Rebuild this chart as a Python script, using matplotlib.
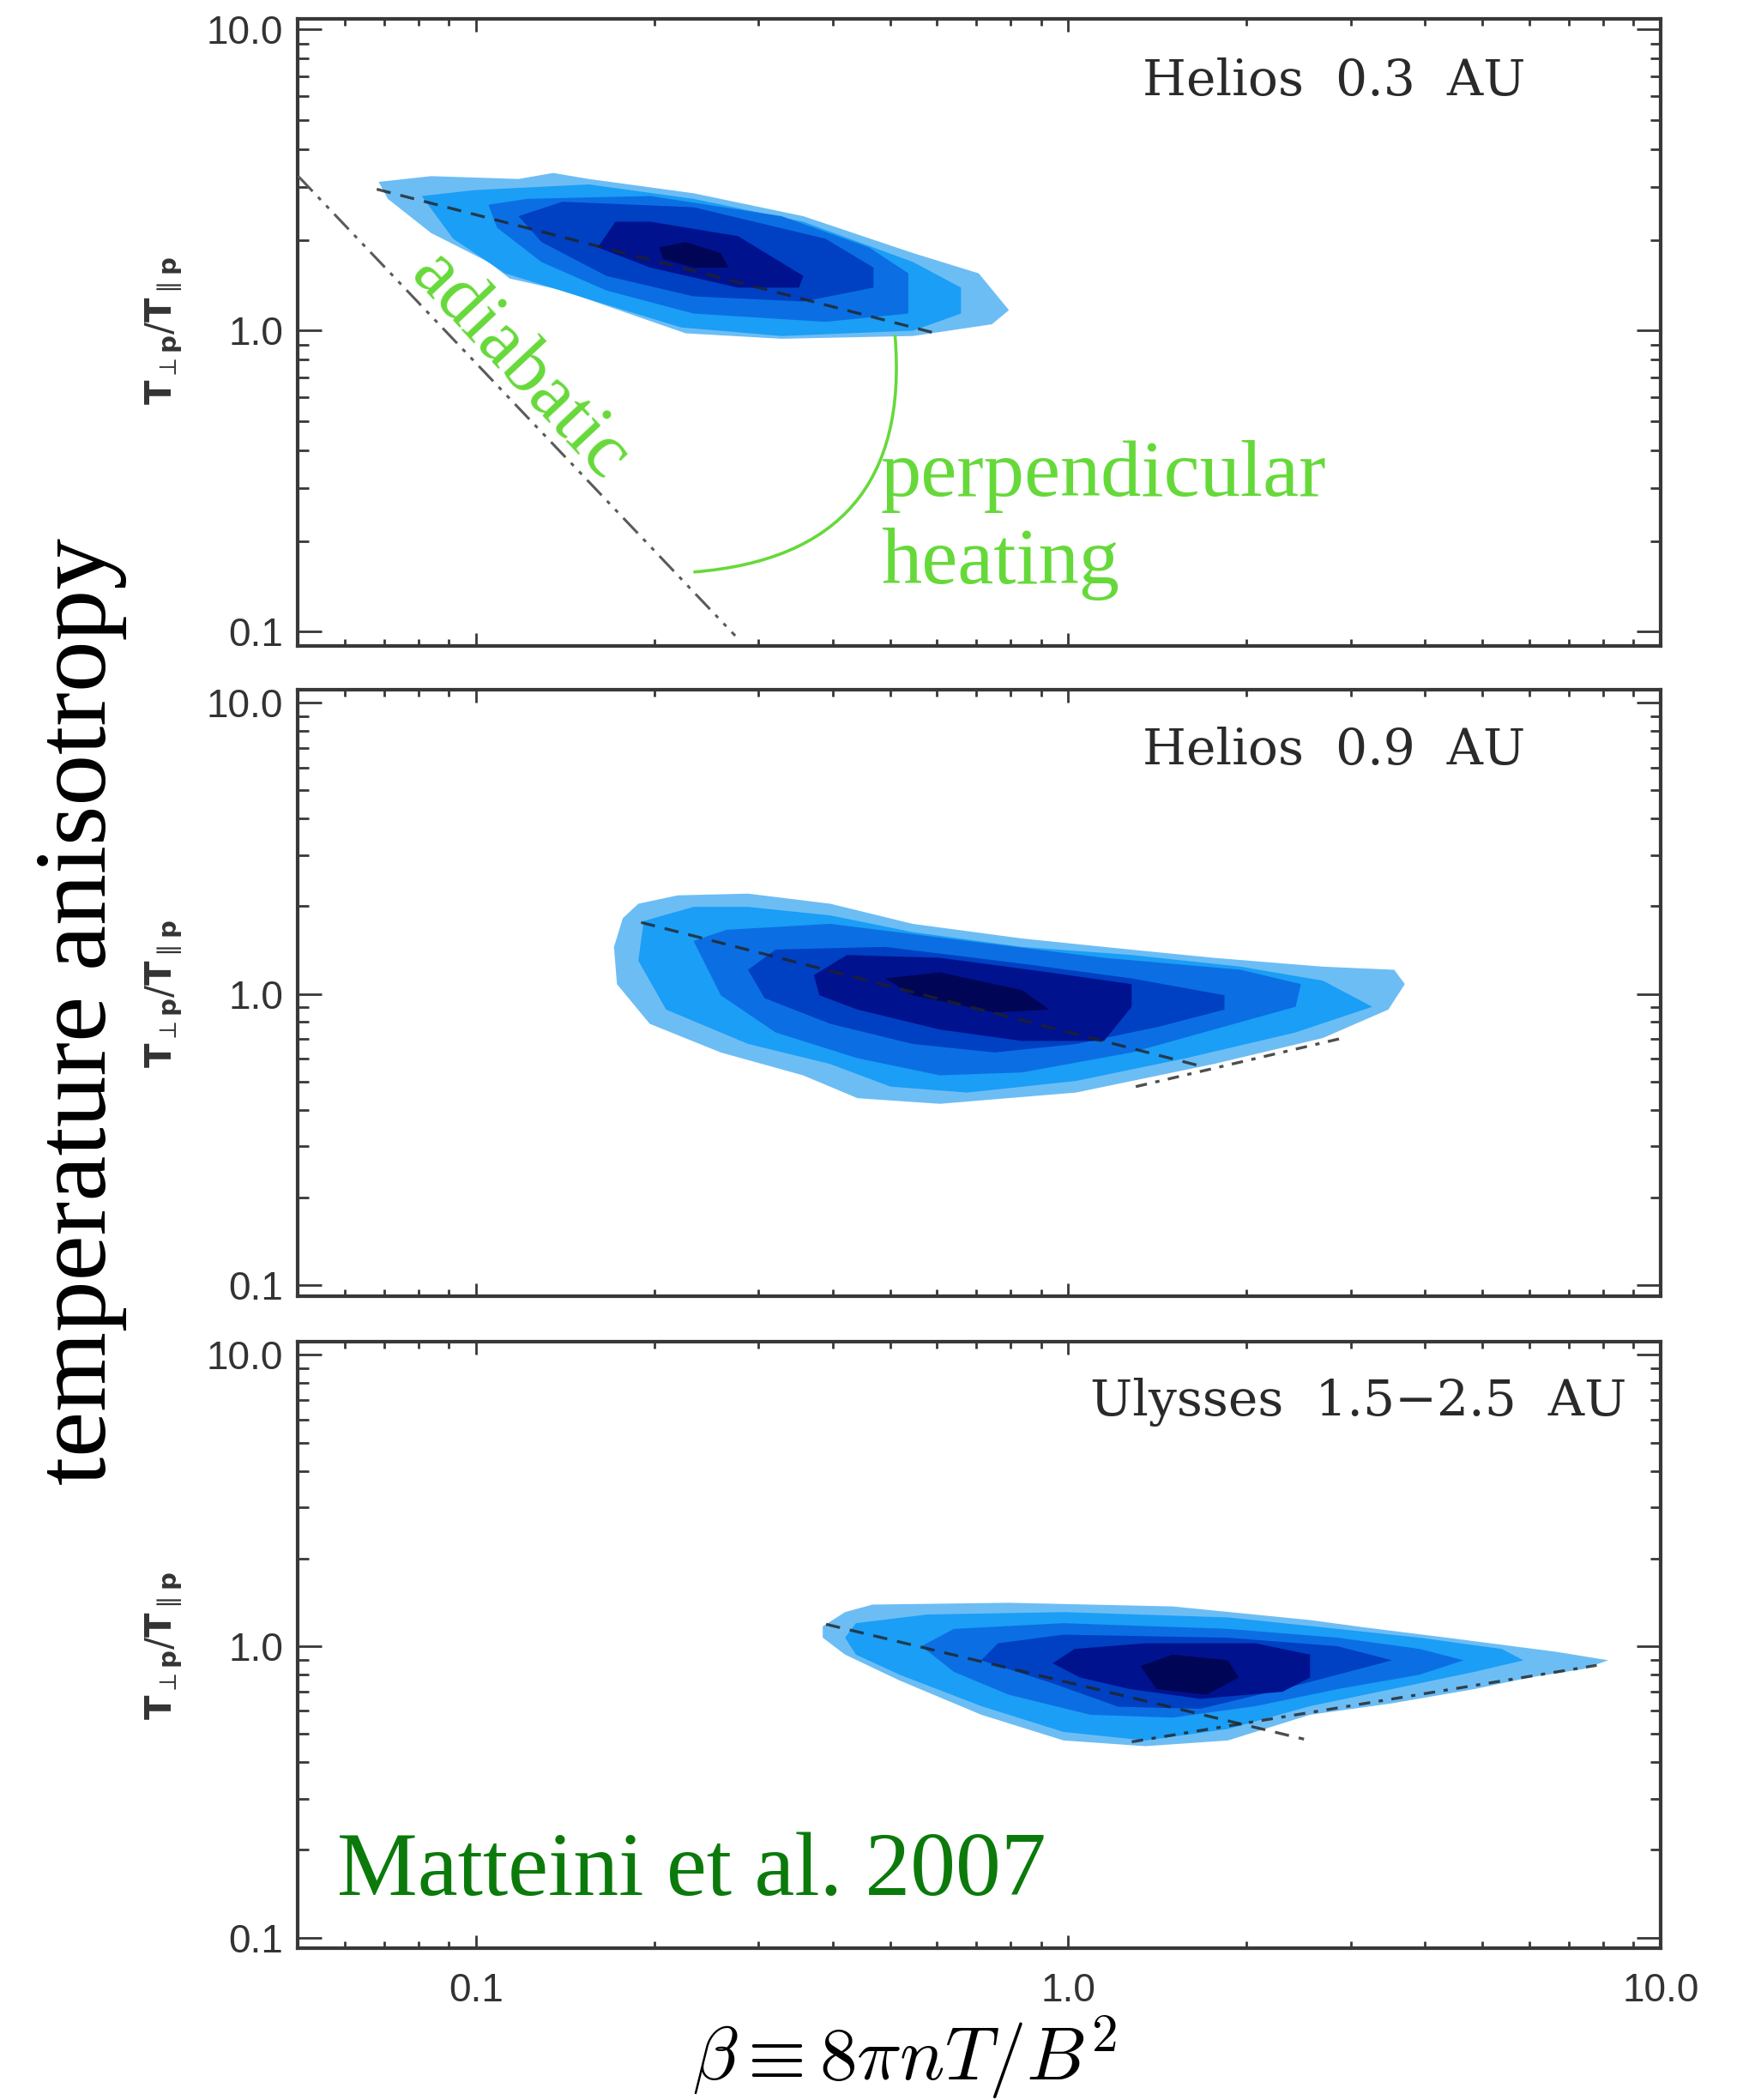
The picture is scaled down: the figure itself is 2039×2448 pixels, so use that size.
import matplotlib.pyplot as plt
from matplotlib.ticker import FixedLocator, FixedFormatter, LogLocator, NullFormatter

# contour outlines: beta (x) and T_perp/T_par (y), outer level first
h03_beta = [
    [0.0685, 0.084, 0.118, 0.135, 0.155, 0.233, 0.357, 0.547, 0.706, 0.794, 0.743, 0.547, 0.328, 0.226, 0.181, 0.140, 0.114, 0.105, 0.084, 0.071],
    [0.081, 0.0996, 0.155, 0.233, 0.357, 0.547, 0.659, 0.659, 0.547, 0.328, 0.222, 0.166, 0.112, 0.0915],
    [0.105, 0.122, 0.197, 0.328, 0.461, 0.537, 0.537, 0.389, 0.233, 0.166, 0.129, 0.1085],
    [0.118, 0.140, 0.233, 0.389, 0.469, 0.469, 0.357, 0.233, 0.166, 0.129],
    [0.1605, 0.172, 0.197, 0.277, 0.357, 0.351, 0.277, 0.197],
    [0.204, 0.226, 0.259, 0.267, 0.233, 0.207],
]
h03_ratio = [
    [3.12, 3.26, 3.19, 3.34, 3.19, 2.86, 2.40, 1.81, 1.55, 1.17, 1.05, 0.96, 0.94, 0.98, 1.14, 1.36, 1.49, 1.69, 2.11, 2.74],
    [2.80, 2.93, 3.06, 2.74, 2.30, 1.69, 1.39, 1.14, 1.00, 0.96, 1.025, 1.22, 1.55, 2.02],
    [2.62, 2.74, 2.80, 2.40, 1.89, 1.55, 1.14, 1.07, 1.14, 1.36, 1.69, 2.20],
    [2.40, 2.68, 2.57, 2.02, 1.62, 1.39, 1.25, 1.30, 1.52, 1.97],
    [1.89, 2.30, 2.30, 2.06, 1.52, 1.39, 1.39, 1.62],
    [1.89, 1.97, 1.81, 1.62, 1.62, 1.73],
]

h09_beta = [
    [0.177, 0.188, 0.219, 0.288, 0.3965, 0.546, 0.835, 1.149, 1.759, 2.69, 3.55, 3.70, 3.47, 2.69, 1.76, 1.03, 0.607, 0.441, 0.3565, 0.259, 0.1965, 0.173, 0.171],
    [0.188, 0.192, 0.233, 0.288, 0.3965, 0.546, 0.835, 1.279, 1.956, 2.69, 3.26, 2.42, 1.58, 1.03, 0.675, 0.501, 0.3965, 0.288, 0.2094],
    [0.233, 0.265, 0.3965, 0.675, 1.149, 1.956, 2.47, 2.42, 1.76, 1.279, 0.835, 0.607, 0.441, 0.3205, 0.259],
    [0.288, 0.3205, 0.4905, 0.835, 1.279, 1.835, 1.835, 1.421, 1.033, 0.751, 0.546, 0.3965, 0.307],
    [0.372, 0.423, 0.607, 0.929, 1.279, 1.279, 1.149, 0.835, 0.607, 0.441, 0.380],
    [0.4905, 0.607, 0.835, 0.929, 0.751, 0.546],
]
h09_ratio = [
    [1.82, 2.04, 2.18, 2.21, 2.04, 1.74, 1.55, 1.45, 1.33, 1.24, 1.21, 1.08, 0.883, 0.705, 0.574, 0.458, 0.419, 0.438, 0.525, 0.629, 0.789, 1.08, 1.45],
    [1.30, 1.78, 1.99, 1.99, 1.86, 1.63, 1.45, 1.36, 1.24, 1.11, 0.903, 0.737, 0.601, 0.502, 0.458, 0.480, 0.574, 0.673, 0.883],
    [1.52, 1.66, 1.74, 1.52, 1.33, 1.21, 1.08, 0.903, 0.754, 0.629, 0.537, 0.525, 0.601, 0.737, 0.989],
    [1.21, 1.42, 1.45, 1.27, 1.13, 0.989, 0.883, 0.771, 0.673, 0.629, 0.673, 0.789, 0.967],
    [1.16, 1.36, 1.33, 1.185, 1.08, 0.903, 0.689, 0.689, 0.754, 0.883, 0.989],
    [1.13, 1.185, 1.03, 0.883, 0.863, 0.989],
]

uly_beta = [
    [0.385, 0.420, 0.467, 0.793, 1.50, 2.56, 3.17, 4.36, 6.67, 8.16, 7.42, 6.0, 4.85, 3.52, 2.56, 1.86, 1.35, 0.982, 0.713, 0.519, 0.420, 0.385],
    [0.420, 0.438, 0.577, 0.982, 1.86, 2.85, 3.92, 5.39, 5.87, 4.85, 3.52, 2.56, 1.86, 1.35, 0.982, 0.713, 0.519, 0.438],
    [0.565, 0.641, 0.982, 1.86, 2.85, 3.92, 4.65, 3.92, 2.85, 2.07, 1.50, 1.09, 0.793, 0.641],
    [0.713, 0.761, 0.982, 1.86, 2.85, 3.52, 2.85, 2.30, 1.67, 1.215, 0.941],
    [0.941, 1.025, 1.35, 2.07, 2.56, 2.56, 2.30, 1.67, 1.27, 1.047],
    [1.324, 1.50, 1.86, 1.94, 1.71, 1.41],
]
uly_ratio = [
    [1.17, 1.31, 1.39, 1.41, 1.37, 1.23, 1.16, 1.07, 0.957, 0.895, 0.836, 0.781, 0.713, 0.637, 0.582, 0.475, 0.454, 0.475, 0.582, 0.763, 0.936, 1.07],
    [1.07, 1.20, 1.285, 1.31, 1.256, 1.147, 1.07, 0.979, 0.895, 0.817, 0.713, 0.623, 0.520, 0.475, 0.508, 0.623, 0.799, 0.936],
    [1.00, 1.147, 1.20, 1.147, 1.07, 0.979, 0.895, 0.799, 0.713, 0.623, 0.569, 0.582, 0.682, 0.817],
    [0.895, 1.024, 1.096, 1.07, 1.00, 0.895, 0.799, 0.713, 0.61, 0.62, 0.746],
    [0.874, 0.979, 1.024, 1.024, 0.936, 0.781, 0.698, 0.66, 0.713, 0.781],
    [0.855, 0.936, 0.895, 0.781, 0.682, 0.713],
]

# fitted anisotropy-beta trends (dashed) and second branches (dash-dot)
fit_beta = [[0.068, 0.61], [0.19, 1.7], [0.39, 2.5]]
fit_ratio = [[2.95, 0.97], [1.76, 0.56], [1.19, 0.48]]
branch_beta = [None, [1.3, 2.95], [1.28, 7.8]]
branch_ratio = [None, [0.48, 0.71], [0.47, 0.86]]

# adiabatic (CGL) path in the top panel
adiab_beta = [0.0501, 0.274]
adiab_ratio = [3.26, 0.097]

# arrow for "perpendicular heating": from adiabatic line to the distribution
heat_from = (0.234, 0.158)
heat_to = (0.51, 0.96)

titles = ['Helios  0.3  AU', 'Helios  0.9  AU', 'Ulysses  1.5\u22122.5  AU']
title_x = [0.901, 0.901, 0.975]
yticks = [0.1, 1.0, 10.0]
ytick_labels = ['0.1', '1.0', '10.0']
xticks = [0.1, 1.0, 10.0]
xtick_labels = ['0.1', '1.0', '10.0']

level_colors = ['#6dbdf5', '#1b9ef5', '#0b6fe3', '#0040c2', '#00128e', '#000655']
axcol = '#383838'

plt.rcParams['mathtext.fontset'] = 'cm'

fig = plt.figure(figsize=(20.4, 24.48), dpi=100)
boxes = [[0.1701, 0.6926, 0.7789, 0.2984],
         [0.1701, 0.3828, 0.7789, 0.2888],
         [0.1701, 0.0723, 0.7789, 0.2888]]
ylims = [(0.090, 10.85), (0.0915, 11.1), (0.092, 11.1)]
panels = [(h03_beta, h03_ratio), (h09_beta, h09_ratio), (uly_beta, uly_ratio)]

axs = []
for i, box in enumerate(boxes):
    ax = fig.add_axes(box)
    axs.append(ax)
    ax.set_xscale('log')
    ax.set_yscale('log')
    bl, rl = panels[i]
    for lev in range(len(bl)):
        ax.fill(bl[lev], rl[lev], color=level_colors[lev], lw=0, zorder=2)
    ax.plot(fit_beta[i], fit_ratio[i], color='#222222', lw=2.4, ls=(0, (5, 3.5)), alpha=0.8, zorder=3)
    if branch_beta[i] is not None:
        ax.plot(branch_beta[i], branch_ratio[i], color='#222222', lw=2.4,
                ls=(0, (4, 3, 1.5, 3)), alpha=0.8, zorder=3)
    ax.set_xlim(0.05, 10.0)
    ax.set_ylim(*ylims[i])

    ax.xaxis.set_major_locator(FixedLocator(xticks))
    ax.xaxis.set_major_formatter(FixedFormatter(xtick_labels))
    ax.xaxis.set_minor_locator(LogLocator(base=10, subs=range(2, 10)))
    ax.xaxis.set_minor_formatter(NullFormatter())
    ax.yaxis.set_major_locator(FixedLocator(yticks))
    ax.yaxis.set_major_formatter(FixedFormatter(ytick_labels))
    ax.yaxis.set_minor_locator(LogLocator(base=10, subs=range(2, 10)))
    ax.yaxis.set_minor_formatter(NullFormatter())

    ax.tick_params(which='both', direction='in', top=True, right=True, color=axcol, width=2)
    ax.tick_params(axis='y', which='major', length=20, pad=12)
    ax.tick_params(axis='y', which='minor', length=9)
    ax.tick_params(axis='x', which='major', length=11, pad=20)
    ax.tick_params(axis='x', which='minor', length=6)
    ax.tick_params(labelsize=33, labelcolor='#333333')
    for lab in ax.get_xticklabels() + ax.get_yticklabels():
        lab.set_family('Liberation Sans')
    if i < 2:
        ax.tick_params(axis='x', labelbottom=False)
    for sp in ax.spines.values():
        sp.set_color(axcol)
        sp.set_linewidth(3)

    ax.text(title_x[i], 0.90, titles[i], transform=ax.transAxes, ha='right', va='center',
            family='DejaVu Serif', fontsize=42, color='#2a2a2a')
    ax.text(-0.098, 1.0, r'$\mathbf{T}_{\perp \mathbf{p}}/\mathbf{T}_{\parallel \mathbf{p}}$',
            transform=ax.get_yaxis_transform(), rotation=90, ha='center', va='center',
            fontsize=30, color='#333333', math_fontfamily='dejavusans')

ax = axs[0]
ax.plot(adiab_beta, adiab_ratio, color='#5a5a5a', lw=2.2, ls=(0, (8, 3, 1.5, 3, 1.5, 3)), zorder=3)
ax.annotate('', xy=heat_from, xytext=heat_to,
            arrowprops=dict(arrowstyle='-', color='#66d93a', lw=2.6,
                            connectionstyle='arc3,rad=-0.5', shrinkA=0, shrinkB=0))

green = '#66d93a'
fig.text(0.297, 0.8255, 'adiabatic', rotation=-46.8, ha='center', va='center',
         family='Liberation Serif', fontsize=66, color=green, rotation_mode='anchor')
fig.text(0.5034, 0.7639, 'perpendicular', ha='left', va='baseline',
         family='Liberation Serif', fontsize=68, color=green)
fig.text(0.5034, 0.7222, 'heating', ha='left', va='baseline',
         family='Liberation Serif', fontsize=68, color=green)

fig.text(0.1926, 0.0976, 'Matteini et al. 2007', ha='left', va='baseline',
         family='Liberation Serif', fontsize=76, color='#0b7a0b')

fig.text(0.046, 0.5184, 'temperature anisotropy', rotation=90, ha='center', va='center',
         family='Liberation Serif', fontsize=86, color='black')

fig.text(0.517, 0.0095, r'$\beta \equiv 8\pi nT/B^2$', ha='center', va='baseline',
         fontsize=63, color='black')

fig.savefig('out.png', dpi=100, facecolor='white')
